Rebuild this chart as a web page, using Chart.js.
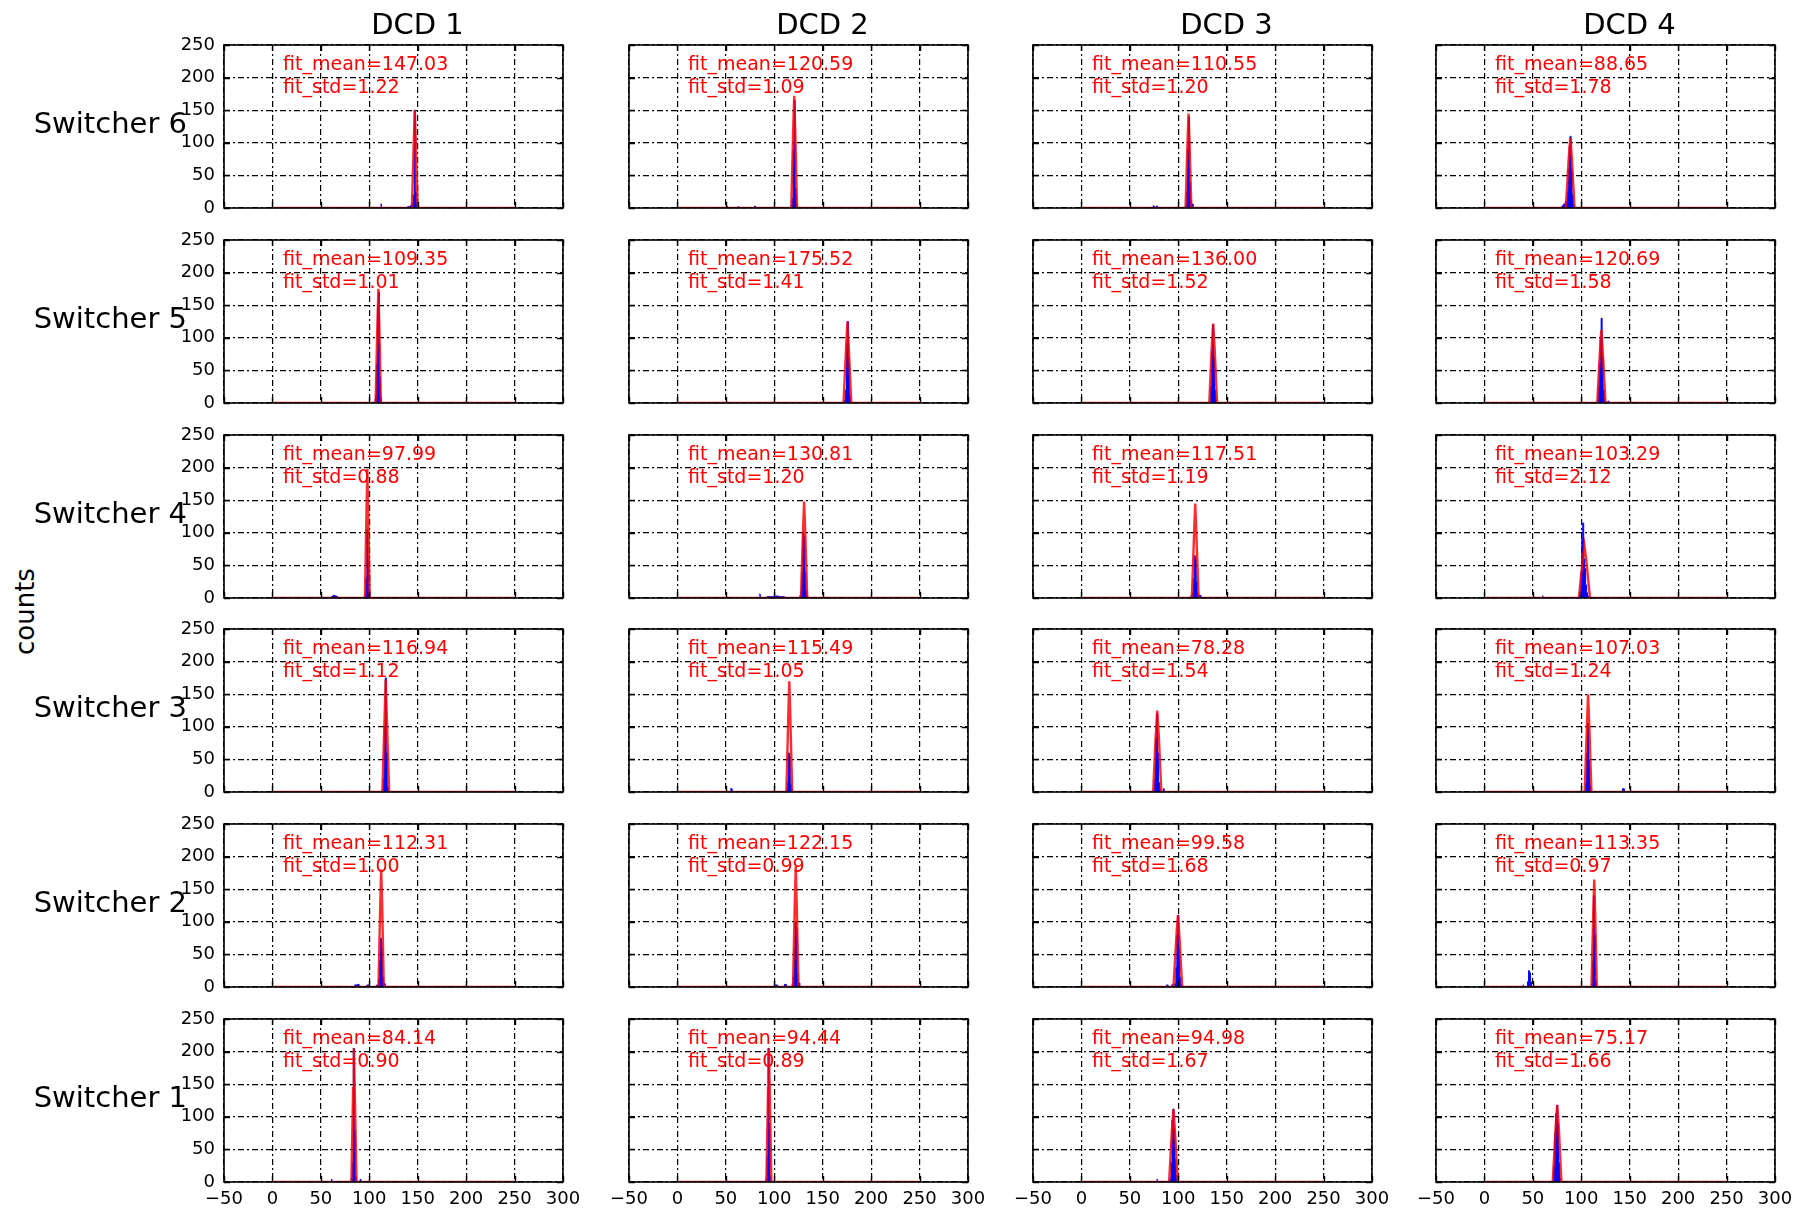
<!DOCTYPE html>
<html>
<head>
<meta charset="utf-8">
<script src="https://cdn.jsdelivr.net/npm/chart.js@4.4.1/dist/chart.umd.min.js"></script>
<style>
  html, body { margin: 0; padding: 0; background: #fff; }
  body { width: 1803px; height: 1211px; position: relative; overflow: hidden; font-family: "DejaVu Sans", sans-serif; color: #000; }
  canvas { position: absolute; }
  .lbl { position: absolute; white-space: nowrap; font-size: 29px; line-height: 1; }
  .row { text-align: right; }
  .title { text-align: center; width: 200px; }
  .ylab { font-size: 26px; transform: rotate(-90deg); transform-origin: center center; }
</style>
</head>
<body>
<script>
// rows top -> bottom, columns left -> right
const rowNames = ['Switcher 6', 'Switcher 5', 'Switcher 4', 'Switcher 3', 'Switcher 2', 'Switcher 1'];
const colNames = ['DCD 1', 'DCD 2', 'DCD 3', 'DCD 4'];
const yLabel = 'counts';

const fitMean = [
  [147.03, 120.59, 110.55, 88.65],
  [109.35, 175.52, 136.00, 120.69],
  [97.99, 130.81, 117.51, 103.29],
  [116.94, 115.49, 78.28, 107.03],
  [112.31, 122.15, 99.58, 113.35],
  [84.14, 94.44, 94.98, 75.17],
];
const fitStd = [
  [1.22, 1.09, 1.20, 1.78],
  [1.01, 1.41, 1.52, 1.58],
  [0.88, 1.20, 1.19, 2.12],
  [1.12, 1.05, 1.54, 1.24],
  [1.00, 0.99, 1.68, 0.97],
  [0.90, 0.89, 1.67, 1.66],
];

// red fit curves, [x, counts]
const fitCurve = [
  [
    [[0,0],[144,0],[146,105],[147,150],[148,105],[150,0],[250,0]],
    [[0,0],[117.5,0],[119.5,120],[120.6,172],[121.6,120],[123.5,0],[250,0]],
    [[0,0],[107.5,0],[109.5,100],[110.6,145],[111.6,100],[113.5,0],[250,0]],
    [[0,0],[84,0],[87,75],[88.7,108],[90.3,75],[93,0],[250,0]],
  ],
  [
    [[0,0],[106.5,0],[108.4,122],[109.4,175],[110.3,122],[112,0],[250,0]],
    [[0,0],[171.5,0],[174.2,88],[175.5,125],[176.8,88],[179.5,0],[250,0]],
    [[0,0],[132,0],[134.5,85],[136,122],[137.5,85],[140,0],[250,0]],
    [[0,0],[116.5,0],[119.2,78],[120.7,112],[122.2,78],[125,0],[250,0]],
  ],
  [
    [[0,0],[95.5,0],[97.2,138],[98,198],[98.8,138],[100.5,0],[250,0]],
    [[0,0],[127.5,0],[129.7,104],[130.8,148],[131.9,104],[134,0],[250,0]],
    [[0,0],[114,0],[116.4,102],[117.5,145],[118.6,102],[121,0],[250,0]],
    [[0,0],[97.5,0],[101.3,56],[103.3,80],[105.3,56],[109,0],[250,0]],
  ],
  [
    [[0,0],[113.5,0],[115.9,120],[116.9,172],[118,120],[120.5,0],[250,0]],
    [[0,0],[112.5,0],[114.5,119],[115.5,170],[116.5,119],[118.5,0],[250,0]],
    [[0,0],[74,0],[76.8,88],[78.3,125],[79.8,88],[82.5,0],[250,0]],
    [[0,0],[103.5,0],[105.9,105],[107,150],[108.2,105],[110.5,0],[250,0]],
  ],
  [
    [[0,0],[109.5,0],[111.3,126],[112.3,180],[113.3,126],[115,0],[250,0]],
    [[0,0],[119.3,0],[121.2,130],[122.2,185],[123.1,130],[125,0],[250,0]],
    [[0,0],[95,0],[98,77],[99.6,110],[101.2,77],[104,0],[250,0]],
    [[0,0],[110.5,0],[112.4,116],[113.4,165],[114.3,116],[116,0],[250,0]],
  ],
  [
    [[0,0],[81.5,0],[83.3,144],[84.1,205],[85,144],[86.8,0],[250,0]],
    [[0,0],[91.8,0],[93.6,144],[94.4,205],[95.3,144],[97,0],[250,0]],
    [[0,0],[90.5,0],[93.4,78],[95,112],[96.6,78],[99.5,0],[250,0]],
    [[0,0],[70.5,0],[73.5,83],[75.2,118],[76.8,83],[79.5,0],[250,0]],
  ],
];

// blue histograms, [bin left edge, counts]
const histCounts = [
  [
    [[111.5,6],[112.5,0],[139.5,2],[142.5,4],[144.5,8],[145.5,20],[146.5,150],[147.5,25],[148.5,8],[149.5,0]],
    [[50.5,3],[51.5,0],[62.5,2],[63.5,0],[79.5,3],[80.5,0],[117.5,4],[118.5,15],[119.5,90],[120.5,165],[121.5,30],[122.5,5],[123.5,0]],
    [[73.5,3],[75.5,0],[77.5,3],[78.5,0],[107.5,5],[108.5,25],[109.5,90],[110.5,140],[111.5,40],[112.5,12],[113.5,6],[115.5,0]],
    [[79.5,3],[81.5,6],[83.5,10],[85.5,25],[86.5,60],[87.5,95],[88.5,110],[89.5,60],[90.5,20],[91.5,6],[92.5,0]],
  ],
  [
    [[105.5,5],[106.5,12],[107.5,60],[108.5,150],[109.5,170],[110.5,40],[111.5,8],[112.5,0]],
    [[171.5,4],[173.5,20],[174.5,90],[175.5,125],[176.5,70],[177.5,10],[178.5,0]],
    [[132.5,4],[133.5,25],[134.5,80],[135.5,120],[136.5,70],[137.5,20],[138.5,5],[139.5,0]],
    [[116.5,5],[117.5,25],[118.5,60],[119.5,100],[120.5,130],[121.5,70],[122.5,20],[123.5,6],[124.5,0],[127.5,3],[128.5,0]],
  ],
  [
    [[60.5,2],[62.5,4],[64.5,3],[66.5,2],[67.5,0],[95.5,6],[96.5,30],[97.5,105],[98.5,60],[99.5,8],[100.5,0]],
    [[84.5,6],[85.5,0],[92.5,2],[99.5,3],[104.5,2],[110.5,0],[126.5,4],[127.5,10],[128.5,40],[129.5,100],[130.5,95],[131.5,40],[132.5,12],[133.5,4],[134.5,0]],
    [[112.5,3],[114.5,8],[115.5,30],[116.5,65],[117.5,60],[118.5,25],[119.5,8],[120.5,4],[123.5,0]],
    [[59.5,3],[60.5,0],[97.5,4],[98.5,10],[99.5,40],[100.5,90],[101.5,115],[102.5,60],[103.5,45],[104.5,20],[105.5,8],[106.5,3],[107.5,0]],
  ],
  [
    [[113.5,4],[114.5,20],[115.5,100],[116.5,175],[117.5,60],[118.5,8],[119.5,0]],
    [[54.5,5],[56.5,0],[112.5,4],[113.5,15],[114.5,60],[115.5,55],[116.5,12],[117.5,4],[118.5,0]],
    [[74.5,4],[75.5,20],[76.5,83],[77.5,120],[78.5,60],[79.5,15],[80.5,4],[81.5,0],[84.5,5],[85.5,0]],
    [[103.5,4],[104.5,15],[105.5,60],[106.5,105],[107.5,50],[108.5,10],[109.5,0],[142.5,5],[144.5,0]],
  ],
  [
    [[84.5,3],[87.5,4],[89.5,0],[97.5,3],[99.5,0],[107.5,3],[109.5,12],[110.5,40],[111.5,75],[112.5,60],[113.5,15],[114.5,5],[116.5,0]],
    [[100.5,3],[103.5,0],[110.5,4],[112.5,0],[118.5,5],[119.5,15],[120.5,60],[121.5,100],[122.5,90],[123.5,20],[124.5,6],[126.5,0]],
    [[87.5,3],[89.5,0],[93.5,4],[94.5,0],[96.5,5],[97.5,30],[98.5,80],[99.5,110],[100.5,60],[101.5,15],[102.5,4],[103.5,0]],
    [[39.5,3],[40.5,0],[44.5,8],[45.5,25],[46.5,22],[47.5,8],[48.5,0],[110.5,5],[111.5,40],[112.5,140],[113.5,80],[114.5,10],[115.5,0]],
  ],
  [
    [[60.5,4],[61.5,0],[81.5,6],[82.5,30],[83.5,205],[84.5,80],[85.5,8],[86.5,0],[90.5,4],[91.5,0]],
    [[49.5,4],[50.5,0],[91.5,6],[92.5,40],[93.5,205],[94.5,90],[95.5,8],[96.5,0]],
    [[77.5,4],[78.5,0],[91.5,5],[92.5,30],[93.5,95],[94.5,112],[95.5,80],[96.5,35],[97.5,10],[98.5,0]],
    [[70.5,5],[71.5,25],[72.5,75],[73.5,105],[74.5,118],[75.5,90],[76.5,30],[77.5,6],[78.5,0]],
  ],
];

const xRange = { min: -50, max: 300, step: 50 };
const yRange = { min: 0, max: 250, step: 50 };

// page layout (px)
const colLeft = [224, 629, 1033, 1436];
const rowTop = [45, 240, 435, 629, 824, 1019];
const boxW = 339, boxH = 163;
const PAD_L = 60, PAD_T = 20, PAD_R = 26, PAD_B = 32;

const tickFont = { family: 'DejaVu Sans', size: 18 };
const gridDash = [6, 3, 2, 3];
const fmtTick = v => (v < 0 ? '\u2212' + Math.abs(v) : String(v));

// box, inward tick marks and the fit text
const framePlugin = {
  id: 'frame',
  afterDatasetsDraw(chart, args, opts) {
    const { ctx, chartArea: a, scales: { x, y } } = chart;
    ctx.save();
    ctx.strokeStyle = '#000';
    ctx.lineWidth = 1.4;
    ctx.beginPath();
    x.ticks.forEach(t => {
      const px = Math.round(x.getPixelForValue(t.value)) + 0.5;
      ctx.moveTo(px, a.bottom); ctx.lineTo(px, a.bottom - 6);
      ctx.moveTo(px, a.top); ctx.lineTo(px, a.top + 6);
    });
    y.ticks.forEach(t => {
      const py = Math.round(y.getPixelForValue(t.value)) + 0.5;
      ctx.moveTo(a.left, py); ctx.lineTo(a.left + 6, py);
      ctx.moveTo(a.right, py); ctx.lineTo(a.right - 6, py);
    });
    ctx.stroke();
    ctx.lineWidth = 1.6;
    ctx.strokeRect(a.left, a.top, a.right - a.left, a.bottom - a.top);

    ctx.fillStyle = '#ff0000';
    ctx.font = '19px "DejaVu Sans"';
    ctx.textAlign = 'left';
    ctx.textBaseline = 'alphabetic';
    const tx = x.getPixelForValue(11);
    ctx.fillText('fit_mean=' + opts.mean.toFixed(2), tx, y.getPixelForValue(212));
    ctx.fillText('fit_std=' + opts.std.toFixed(2), tx, y.getPixelForValue(177));
    ctx.restore();
  },
};

function makePanel(r, c) {
  const canvas = document.createElement('canvas');
  canvas.width = PAD_L + boxW + PAD_R;
  canvas.height = PAD_T + boxH + PAD_B;
  document.body.appendChild(canvas);

  const showY = c === 0;
  const showX = r === rowNames.length - 1;

  const chart = new Chart(canvas, {
    type: 'line',
    data: {
      datasets: [
        {
          data: fitCurve[r][c],
          borderColor: 'rgba(255, 0, 0, 0.82)',
          borderWidth: 2.4,
          pointRadius: 0,
          tension: 0,
          fill: false,
          order: 0,
        },
        {
          data: histCounts[r][c],
          stepped: true,
          borderColor: '#0000ff',
          backgroundColor: '#0000ff',
          borderWidth: 1,
          pointRadius: 0,
          fill: 'origin',
          order: 1,
        },
      ],
    },
    options: {
      responsive: false,
      maintainAspectRatio: false,
      animation: false,
      events: [],
      layout: { padding: { left: 0, top: PAD_T, right: PAD_R, bottom: 0 } },
      plugins: {
        legend: { display: false },
        tooltip: { enabled: false },
        frame: { mean: fitMean[r][c], std: fitStd[r][c] },
      },
      scales: {
        x: {
          type: 'linear',
          min: xRange.min,
          max: xRange.max,
          ticks: {
            display: showX,
            stepSize: xRange.step,
            color: '#000',
            font: tickFont,
            padding: 7,
            maxRotation: 0,
            callback: fmtTick,
          },
          grid: { color: '#000', lineWidth: 1.2, drawTicks: false },
          border: { display: false, dash: gridDash },
          afterFit: s => { s.height = PAD_B; },
        },
        y: {
          type: 'linear',
          min: yRange.min,
          max: yRange.max,
          ticks: {
            display: showY,
            stepSize: yRange.step,
            color: '#000',
            font: tickFont,
            padding: 9,
          },
          grid: { color: '#000', lineWidth: 1.2, drawTicks: false },
          border: { display: false, dash: gridDash },
          afterFit: s => { s.width = PAD_L; },
        },
      },
    },
    plugins: [framePlugin],
  });

  // make the plot box exactly boxW x boxH and put it at its place
  let a = chart.chartArea;
  const dw = boxW - (a.right - a.left);
  const dh = boxH - (a.bottom - a.top);
  if (dw || dh) chart.resize(canvas.width + dw, canvas.height + dh);
  a = chart.chartArea;
  canvas.style.left = (colLeft[c] - a.left) + 'px';
  canvas.style.top = (rowTop[r] - a.top) + 'px';
}

rowNames.forEach((_, r) => colNames.forEach((_, c) => makePanel(r, c)));

// labels around the grid
function addLabel(text, cls, css) {
  const el = document.createElement('div');
  el.className = 'lbl ' + cls;
  el.textContent = text;
  Object.assign(el.style, css);
  document.body.appendChild(el);
  return el;
}

colNames.forEach((name, c) => {
  addLabel(name, 'title', { left: (colLeft[c] + boxW / 2 + 24 - 100) + 'px', top: '10px' });
});
rowNames.forEach((name, r) => {
  addLabel(name, 'row', { right: (1803 - 187) + 'px', top: (rowTop[r] + boxH / 2 - 18) + 'px' });
});
addLabel(yLabel, 'ylab', { left: '-18px', top: '599px', width: '86px', textAlign: 'center' });
</script>
</body>
</html>
